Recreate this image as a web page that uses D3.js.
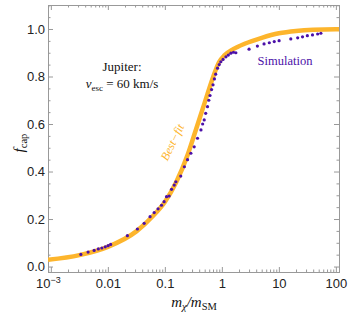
<!DOCTYPE html>
<html>
<head>
<meta charset="utf-8">
<script src="https://cdn.jsdelivr.net/npm/d3@7"></script>
<style>
  body { margin: 0; background: #fff; }
  .tick text { font-family: "Liberation Sans", Arial, sans-serif; font-size: 13px; fill: #222; }
  .serif { font-family: "Liberation Serif", "Times New Roman", serif; }
</style>
</head>
<body>
<div id="chart"></div>
<script>
// simulation points: m_chi/m_SM and f_cap
const simX = [0.00336, 0.0045, 0.00575, 0.0068, 0.00785, 0.009, 0.0101, 0.0112, 0.022, 0.033,
  0.0433, 0.055, 0.065, 0.076, 0.0874, 0.097, 0.107, 0.119, 0.131, 0.146,
  0.156, 0.19, 0.22, 0.25, 0.286, 0.327, 0.374, 0.43, 0.46, 0.49,
  0.52, 0.56, 0.59, 0.62, 0.66, 0.70, 0.74, 0.78, 0.84, 0.90,
  0.96, 1.05, 1.18, 1.3, 1.44, 1.6, 1.76, 3.0, 4.2, 5.5,
  6.8, 8.3, 10.1, 16.2, 21.4, 26, 31.6, 38.9, 47.9, 54.6];
const simY = [0.051, 0.061, 0.068, 0.074, 0.078, 0.083, 0.088, 0.093, 0.13, 0.158,
  0.182, 0.21, 0.227, 0.243, 0.258, 0.273, 0.294, 0.297, 0.325, 0.343,
  0.357, 0.381, 0.42, 0.45, 0.477, 0.504, 0.54, 0.575, 0.6, 0.617,
  0.645, 0.673, 0.7, 0.72, 0.745, 0.765, 0.79, 0.81, 0.835, 0.85,
  0.862, 0.872, 0.883, 0.89, 0.898, 0.902, 0.9, 0.915, 0.928, 0.937,
  0.942, 0.947, 0.951, 0.958, 0.963, 0.967, 0.972, 0.975, 0.979, 0.982];

// best-fit curve
const fitX = [0.00089, 0.00316, 0.01, 0.0316, 0.063, 0.1, 0.158, 0.251, 0.355, 0.5,
  0.708, 0.89, 1.12, 1.58, 2.51, 5.01, 10, 20, 40, 100, 117];
const fitY = [0.028, 0.048, 0.083, 0.148, 0.215, 0.272, 0.355, 0.47, 0.58, 0.69,
  0.80, 0.86, 0.89, 0.915, 0.938, 0.963, 0.982, 0.992, 0.997, 0.999, 0.999];

const xMajor = [0.001, 0.01, 0.1, 1, 10, 100];
const xMajorLabels = ["10^-3", "0.01", "0.1", "1", "10", "100"];
const yMajor = [0, 0.2, 0.4, 0.6, 0.8, 1.0];

const width = 349, height = 317;
const mLeft = 48, mRight = 339, mTop = 5, mBottom = 272;
const orange = "#fdb52c", purple = "#4b10a8", frameColor = "#999";

const svg = d3.select("#chart").append("svg")
  .attr("width", width).attr("height", height);

const x = d3.scaleLog().domain([Math.pow(10, -3.05), Math.pow(10, 2.055)]).range([mLeft, mRight]);
const y = d3.scaleLinear().domain([-0.023, 1.101]).range([mBottom, mTop]);

// minor ticks
const xMinor = [];
for (let e = -4; e <= 2; e++) {
  for (let k = 2; k <= 9; k++) {
    const v = k * Math.pow(10, e);
    if (v >= x.domain()[0] && v <= x.domain()[1]) xMinor.push(+v.toPrecision(3));
  }
}
const yMinor = d3.range(0, 1.11, 0.05).map(v => +v.toFixed(2)).filter(v => yMajor.indexOf(v) < 0);

function styleAxis(g) {
  g.select(".domain").attr("stroke", frameColor);
  g.selectAll(".tick line").attr("stroke", frameColor);
}

// frame axes
svg.append("g").attr("transform", `translate(0,${mBottom})`)
  .call(d3.axisBottom(x).tickValues(xMajor).tickSize(-5).tickPadding(7)
    .tickFormat((d, i) => xMajorLabels[i]))
  .call(styleAxis)
  .call(g => g.selectAll(".tick text").filter(d => d === 0.001).each(function () {
    const t = d3.select(this);
    t.text("").attr("dx", "-3");
    t.append("tspan").text("10");
    t.append("tspan").attr("dy", "-5").attr("font-size", "9px").text("\u22123");
  }));
svg.append("g").attr("transform", `translate(0,${mBottom})`)
  .call(d3.axisBottom(x).tickValues(xMinor).tickSize(-2.5).tickFormat(""))
  .call(styleAxis);
svg.append("g").attr("transform", `translate(0,${mTop})`)
  .call(d3.axisTop(x).tickValues(xMajor).tickSize(-5).tickFormat(""))
  .call(styleAxis);
svg.append("g").attr("transform", `translate(0,${mTop})`)
  .call(d3.axisTop(x).tickValues(xMinor).tickSize(-2.5).tickFormat(""))
  .call(styleAxis);

svg.append("g").attr("transform", `translate(${mLeft},0)`)
  .call(d3.axisLeft(y).tickValues(yMajor).tickSize(-5).tickPadding(3).tickFormat(d3.format(".1f")))
  .call(styleAxis);
svg.append("g").attr("transform", `translate(${mLeft},0)`)
  .call(d3.axisLeft(y).tickValues(yMinor).tickSize(-2.5).tickFormat(""))
  .call(styleAxis);
svg.append("g").attr("transform", `translate(${mRight},0)`)
  .call(d3.axisRight(y).tickValues(yMajor).tickSize(-5).tickFormat(""))
  .call(styleAxis);
svg.append("g").attr("transform", `translate(${mRight},0)`)
  .call(d3.axisRight(y).tickValues(yMinor).tickSize(-2.5).tickFormat(""))
  .call(styleAxis);

// clip to the frame
svg.append("clipPath").attr("id", "clip")
  .append("rect").attr("x", mLeft).attr("y", mTop).attr("width", mRight - mLeft).attr("height", mBottom - mTop);

const plot = svg.append("g").attr("clip-path", "url(#clip)");

const line = d3.line()
  .x((d, i) => x(fitX[i]))
  .y((d, i) => y(fitY[i]))
  .curve(d3.curveMonotoneX);

plot.append("path")
  .datum(fitX)
  .attr("d", line)
  .attr("fill", "none")
  .attr("stroke", orange)
  .attr("stroke-width", 4.5);

plot.selectAll("circle")
  .data(simX)
  .enter()
  .append("circle")
  .attr("cx", d => x(d))
  .attr("cy", (d, i) => y(simY[i]))
  .attr("r", 1.6)
  .attr("fill", purple);

// annotations
const ann = svg.append("g").attr("class", "serif");
ann.append("text").attr("x", 122).attr("y", 71).attr("text-anchor", "middle")
  .attr("font-size", "13px").attr("fill", "#111").text("Jupiter:");
const v = ann.append("text").attr("x", 122).attr("y", 88).attr("text-anchor", "middle")
  .attr("font-size", "13px").attr("fill", "#111");
v.append("tspan").attr("font-style", "italic").text("v");
v.append("tspan").attr("font-size", "9px").attr("dy", 3).text("esc");
v.append("tspan").attr("dy", -3).text(" = 60 km/s");

ann.append("text").attr("x", 285).attr("y", 65).attr("text-anchor", "middle")
  .attr("font-size", "12.5px").attr("fill", purple).text("Simulation");

ann.append("text")
  .attr("transform", "translate(176,144) rotate(-64)")
  .attr("text-anchor", "middle")
  .attr("font-size", "12px").attr("font-style", "italic")
  .attr("fill", orange).text("Best\u2212fit");

// axis labels
const yl = ann.append("text")
  .attr("transform", "translate(24,143) rotate(-90)")
  .attr("text-anchor", "middle")
  .attr("font-size", "15px").attr("fill", "#111");
yl.append("tspan").attr("font-style", "italic").text("f");
yl.append("tspan").attr("font-size", "10.5px").attr("dy", 3).text("cap");

const xl = ann.append("text")
  .attr("x", 194).attr("y", 307)
  .attr("text-anchor", "middle")
  .attr("font-size", "15px").attr("fill", "#111");
xl.append("tspan").attr("font-style", "italic").text("m");
xl.append("tspan").attr("font-size", "10.5px").attr("font-style", "italic").attr("dy", 3).text("\u03c7");
xl.append("tspan").attr("dy", -3).attr("font-style", "italic").text("/m");
xl.append("tspan").attr("font-size", "10.5px").attr("dy", 3).text("SM");
</script>
</body>
</html>
